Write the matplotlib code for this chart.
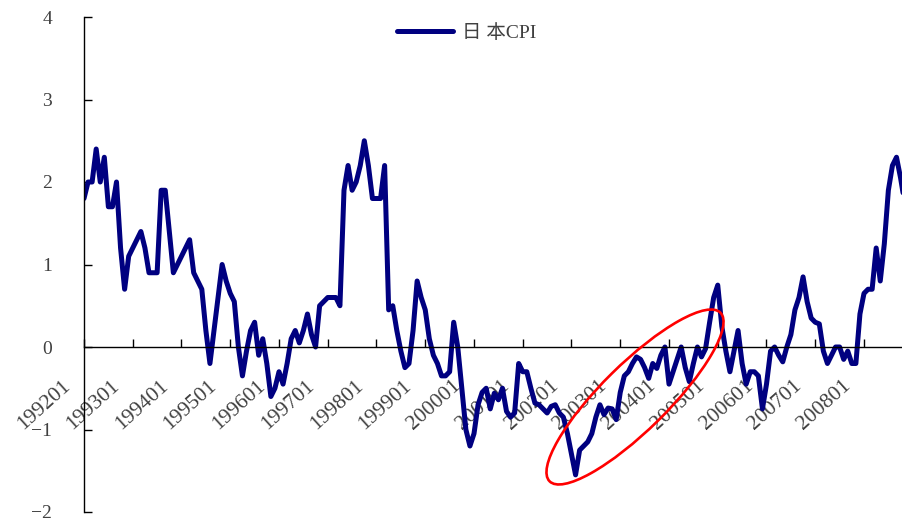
import matplotlib
matplotlib.use("Agg")
import matplotlib.pyplot as plt
from matplotlib.patches import Ellipse
from matplotlib.transforms import ScaledTranslation

# Japan CPI y/y (%), monthly from 1992-01
cpi = [
    1.8, 2.0, 2.0, 2.4, 2.0, 2.3, 1.7, 1.7, 2.0, 1.2, 0.7, 1.1,          # 1992
    1.2, 1.3, 1.4, 1.2, 0.9, 0.9, 0.9, 1.9, 1.9, 1.4, 0.9, 1.0,          # 1993
    1.1, 1.2, 1.3, 0.9, 0.8, 0.7, 0.2, -0.2, 0.2, 0.6, 1.0, 0.8,         # 1994
    0.65, 0.55, 0.0, -0.35, -0.05, 0.2, 0.3, -0.1, 0.1, -0.2, -0.6, -0.5,  # 1995
    -0.3, -0.45, -0.2, 0.1, 0.2, 0.05, 0.2, 0.4, 0.15, 0.0, 0.5, 0.55,   # 1996
    0.6, 0.6, 0.6, 0.5, 1.9, 2.2, 1.9, 2.0, 2.2, 2.5, 2.2, 1.8,          # 1997
    1.8, 1.8, 2.2, 0.45, 0.5, 0.2, -0.05, -0.25, -0.2, 0.2, 0.8, 0.6,    # 1998
    0.45, 0.1, -0.1, -0.2, -0.35, -0.35, -0.3, 0.3, 0.0, -0.5, -1.0, -1.2,  # 1999
    -1.05, -0.7, -0.55, -0.5, -0.75, -0.56, -0.64, -0.5, -0.78, -0.85, -0.8, -0.2,  # 2000
    -0.3, -0.3, -0.5, -0.68, -0.7, -0.75, -0.8, -0.72, -0.7, -0.8, -0.85, -1.05,   # 2001
    -1.3, -1.55, -1.25, -1.2, -1.15, -1.05, -0.85, -0.7, -0.82, -0.74, -0.75, -0.88,  # 2002
    -0.55, -0.35, -0.3, -0.2, -0.12, -0.15, -0.25, -0.38, -0.2, -0.26, -0.1, 0.0,   # 2003
    -0.45, -0.3, -0.15, 0.0, -0.25, -0.42, -0.2, 0.0, -0.12, -0.02, 0.3, 0.6,       # 2004
    0.75, 0.25, -0.05, -0.3, -0.05, 0.2, -0.2, -0.45, -0.3, -0.3, -0.35, -0.75,     # 2005
    -0.45, -0.05, 0.0, -0.1, -0.18, 0.0, 0.15, 0.45, 0.6, 0.85, 0.55, 0.35,         # 2006
    0.3, 0.28, -0.05, -0.2, -0.1, 0.0, 0.0, -0.15, -0.05, -0.2, -0.2, 0.4,          # 2007
    0.65, 0.7, 0.7, 1.2, 0.8, 1.25, 1.9, 2.2, 2.3, 2.05, 1.75,                      # 2008
]
years = list(range(1992, 2009))
tick_labels = [f"{y}01" for y in years]
series_name = "日 本CPI"

W, H = 903, 521
fig = plt.figure(figsize=(W / 100, H / 100), dpi=100)
left_px, right_px, top_px, bot_px = 84, 903, 17, 512
ax = fig.add_axes([left_px / W, (H - bot_px) / H,
                   (right_px - left_px) / W, (bot_px - top_px) / H])

months = list(range(len(cpi)))
ax.plot(months, cpi, color="#000080", linewidth=3.6, solid_joinstyle="round",
        solid_capstyle="round", label=series_name, clip_on=True)

px_per_month = 48.75 / 12
ax.set_xlim(0, (right_px - left_px) / px_per_month)
ax.set_ylim(-2, 4)

for s in ("top", "right"):
    ax.spines[s].set_visible(False)
ax.spines["bottom"].set_position(("data", 0))
ax.spines["left"].set_linewidth(1.0)
ax.spines["bottom"].set_linewidth(1.0)

serif = ["Liberation Serif", "DejaVu Serif"]
ax.set_yticks(range(-2, 5))
ax.set_yticklabels([str(v).replace("-", "\u2212") for v in range(-2, 5)],
                   fontfamily=serif, fontsize=14, color="#404040")
ax.tick_params(axis="y", direction="in", length=5.5, width=1.0, pad=23)

ax.set_xticks([12 * i for i in range(len(years))])
ax.set_xticklabels(tick_labels, rotation=42, ha="right", va="top",
                   rotation_mode="anchor", fontfamily=serif, fontsize=15.5,
                   color="#404040")
ax.tick_params(axis="x", direction="in", length=5.5, width=1.0, pad=21)
off = ScaledTranslation(-16 / 72, 0, fig.dpi_scale_trans)
for lab in ax.get_xticklabels():
    lab.set_transform(lab.get_transform() + off)

leg = fig.legend(loc="center left", bbox_to_anchor=(397 / W, 1 - 33 / H),
                 frameon=False, borderpad=0, borderaxespad=0,
                 handlelength=2.9, handletextpad=0.45,
                 prop={"family": ["Liberation Serif", "Noto Sans CJK SC"], "size": 14})
for t in leg.get_texts():
    t.set_color("#404040")

# red highlight ellipse (annotation overlay in pixel coordinates)
ov = fig.add_axes([0, 0, 1, 1])
ov.set_xlim(0, W)
ov.set_ylim(H, 0)
ov.axis("off")
ov.patch.set_alpha(0)
ov.add_patch(Ellipse((635, 397), 240, 66, angle=-44.6, fill=False,
                     edgecolor="#FF0000", linewidth=1.9))

fig.savefig("out.png", dpi=100)
